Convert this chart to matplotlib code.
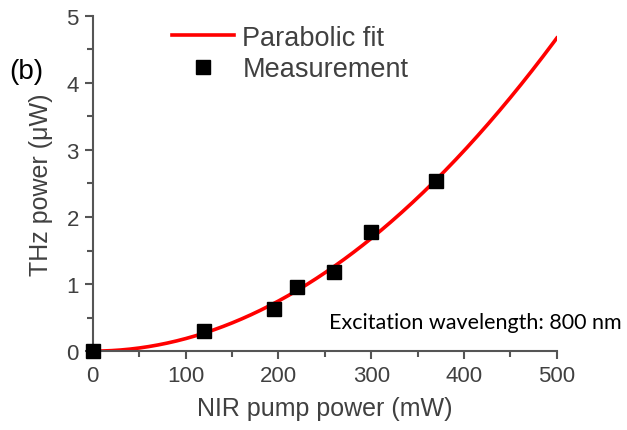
import numpy as np
import matplotlib
matplotlib.use("Agg")
import matplotlib.pyplot as plt

# Measurement data
pump_mw = [0, 120, 195, 220, 260, 300, 370]
thz_uw = [0.0, 0.30, 0.63, 0.96, 1.18, 1.78, 2.53]

# Parabolic fit y = a x^2 (least squares on measurement)
xd = np.array(pump_mw, float)
yd = np.array(thz_uw, float)
a = np.sum(xd**2 * yd) / np.sum(xd**4)
xf = np.linspace(0, 500, 300)
yf = a * xf**2

plt.rcParams['font.family'] = ['Liberation Sans', 'DejaVu Sans']
gray = '#404040'
spine = '#555555'

fig = plt.figure(figsize=(6.27, 4.31), dpi=100)
ax = fig.add_axes([0.148, 0.183, 0.740, 0.778])

ax.plot(xf, yf, color='#ff0000', lw=2.6, label='Parabolic fit', zorder=2)
ax.plot(pump_mw, thz_uw, 's', color='black', ms=10, ls='none', label='Measurement', zorder=3, clip_on=False)

ax.set_xlim(0, 500)
ax.set_ylim(0, 5)
ax.set_xticks([0, 100, 200, 300, 400, 500])
ax.set_yticks([0, 1, 2, 3, 4, 5])
ax.set_xticks(np.arange(50, 500, 100), minor=True)
ax.set_yticks(np.arange(0.5, 5, 1), minor=True)

for s in ['top', 'right']:
    ax.spines[s].set_visible(False)
for s in ['left', 'bottom']:
    ax.spines[s].set_color(spine)
    ax.spines[s].set_linewidth(1.5)
ax.tick_params(which='major', direction='out', length=6, width=1.5, color=spine,
               labelsize=16, labelcolor=gray, pad=4)
ax.tick_params(which='minor', direction='out', length=4, width=1.5, color=spine)

ax.set_xlabel('NIR pump power (mW)', fontsize=18, color=gray, labelpad=7)
ax.set_ylabel('THz power (μW)', fontsize=18, color=gray, labelpad=10)

leg = ax.legend(loc='upper left', bbox_to_anchor=(0.147, 1.006), frameon=False,
                fontsize=19.5, handlelength=2.3, handletextpad=0.3,
                labelspacing=0.2, borderaxespad=0)
for t in leg.get_texts():
    t.set_color(gray)

fig.text(0.015, 0.833, '(b)', fontsize=20, color='black', va='center')
ax.text(1.14, 0.087, 'Excitation wavelength: 800 nm', transform=ax.transAxes,
        fontsize=15.5, family=['Lato', 'DejaVu Sans'], color='black', ha='right', va='center')

fig.savefig('out.png', dpi=100)
